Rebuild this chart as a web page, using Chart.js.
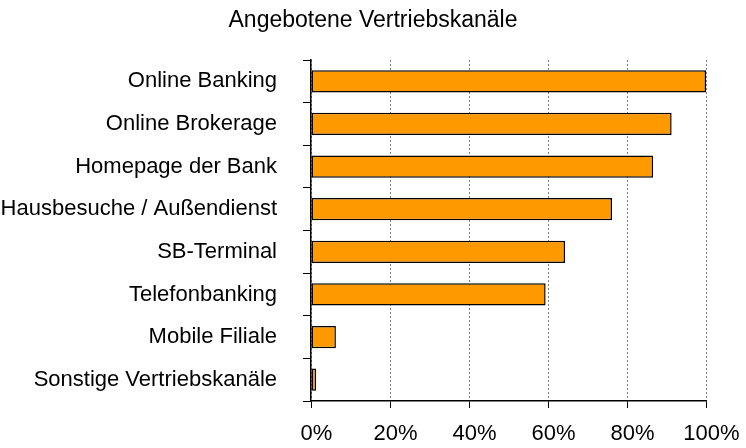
<!DOCTYPE html>
<html>
<head>
<meta charset="utf-8">
<script src="https://cdn.jsdelivr.net/npm/chart.js@4"></script>
<style>
  html, body { margin: 0; padding: 0; background: #fff; }
  #wrap { width: 746px; height: 448px; }
</style>
</head>
<body>
<div id="wrap"><canvas id="chart" width="746" height="448"></canvas></div>
<script>
const titleText = 'Angebotene Vertriebskanäle';
const channels = ['Online Banking', 'Online Brokerage', 'Homepage der Bank', 'Hausbesuche / Außendienst',
    'SB-Terminal', 'Telefonbanking', 'Mobile Filiale', 'Sonstige Vertriebskanäle'];
const shares = [100, 91.3, 86.6, 76.2, 64.3, 59.4, 6.3, 1.3];
const xTicks = [0, 20, 40, 60, 80, 100];

const font = 'Liberation Sans, Arial, sans-serif';

const ctx = document.querySelector('#chart').getContext('2d');

new Chart(ctx, {
    type: 'bar',
    data: {
        labels: channels,
        datasets: [
            {
                data: shares,
                backgroundColor: '#FF9900',
                borderColor: '#000000',
                borderWidth: 1.5,
                borderSkipped: false,
                categoryPercentage: 1,
                barPercentage: 0.52
            }
        ]
    },
    options: {
        indexAxis: 'y',
        responsive: false,
        animation: false,
        layout: { padding: 0 },
        plugins: {
            legend: { display: false },
            tooltip: { enabled: false },
            title: {
                display: true,
                text: titleText,
                color: '#000',
                font: { family: font, size: 23, weight: 'normal' },
                padding: { top: 7, bottom: 25.4 }
            }
        },
        scales: {
            x: {
                min: 0,
                max: 100,
                afterBuildTicks: (scale) => {
                    scale.ticks = xTicks.map(v => ({ value: v }));
                },
                afterFit: (scale) => {
                    scale.height = 47;
                    // fixed gap on the right, title stays centred on the canvas
                    scale.paddingLeft = 0;
                    scale.paddingRight = 40;
                },
                border: { display: true, color: '#000', width: 1.5, dash: [2, 2] },
                grid: {
                    color: '#808080',
                    lineWidth: 1,
                    tickColor: '#000',
                    tickBorderDash: [],
                    tickLength: 7
                },
                ticks: {
                    color: '#000',
                    padding: 13,
                    font: { family: font, size: 22 },
                    // leading en space nudges the labels right like in the original
                    callback: (v) => '\u2002' + v + '%'
                }
            },
            y: {
                afterFit: (scale) => { scale.width = 311; },
                border: { display: true, color: '#000', width: 1.5 },
                grid: {
                    offset: true,
                    drawOnChartArea: false,
                    color: '#000',
                    tickLength: 8
                },
                ticks: {
                    color: '#000',
                    padding: 26,
                    font: { family: font, size: 22 }
                }
            }
        }
    }
})
</script>
</body>
</html>
